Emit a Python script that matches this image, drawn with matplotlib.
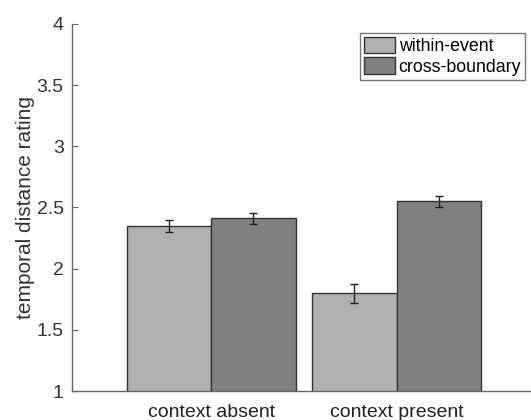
import numpy as np
import matplotlib
matplotlib.use('Agg')
import matplotlib.pyplot as plt

plt.rcParams['font.family'] = ['Liberation Sans', 'DejaVu Sans']

# Mean ratings and standard errors per condition
conditions = ['context absent', 'context present']
series = ['within-event', 'cross-boundary']
within_event = [2.35, 1.80]
cross_boundary = [2.41, 2.55]
within_err = [0.05, 0.078]
cross_err = [0.047, 0.046]

colors = ['#b0b0b0', '#808080']

fig = plt.figure(figsize=(5.31, 4.2), dpi=100)
ax = fig.add_axes([0.1356, 0.069, 0.87, 0.874])

x = np.arange(1, len(conditions) + 1)
width = 0.455

ax.bar(x - width / 2, within_event, width, color=colors[0],
       edgecolor='#333333', linewidth=1.0, label=series[0], zorder=2)
ax.bar(x + width / 2, cross_boundary, width, color=colors[1],
       edgecolor='#333333', linewidth=1.0, label=series[1], zorder=2)

ax.errorbar(x - width / 2, within_event, yerr=within_err, fmt='none',
            ecolor='#222222', elinewidth=1.0, capsize=3, capthick=1.0, zorder=3)
ax.errorbar(x + width / 2, cross_boundary, yerr=cross_err, fmt='none',
            ecolor='#222222', elinewidth=1.0, capsize=3, capthick=1.0, zorder=3)

ax.set_ylim(1, 4)
ax.set_xlim(0.25, 2.74)
ax.set_yticks(np.arange(1, 4.01, 0.5))
ax.set_yticklabels(['1', '1.5', '2', '2.5', '3', '3.5', '4'])
ax.set_xticks(x)
ax.set_xticklabels(conditions)

ax.spines['top'].set_visible(False)
ax.spines['right'].set_visible(False)
for s in ['left', 'bottom']:
    ax.spines[s].set_color('#666666')
    ax.spines[s].set_linewidth(1.0)

ax.tick_params(axis='y', direction='in', length=4, color='#666666',
               labelsize=14, labelcolor='#333333', pad=6)
ax.tick_params(axis='x', length=0, labelsize=14, labelcolor='#222222', pad=9)

ax.set_ylabel('temporal distance rating', fontsize=15, color='#333333',
              labelpad=1)

leg = ax.legend(loc='upper right', bbox_to_anchor=(0.992, 0.99),
                fontsize=12.8, frameon=True, fancybox=False,
                handlelength=1.75, handleheight=1.05, handletextpad=0.2,
                borderpad=0.22, labelspacing=0.12, borderaxespad=0.3)
leg.get_frame().set_edgecolor('#555555')
leg.get_frame().set_linewidth(1.0)

fig.savefig('out.png', dpi=100)
